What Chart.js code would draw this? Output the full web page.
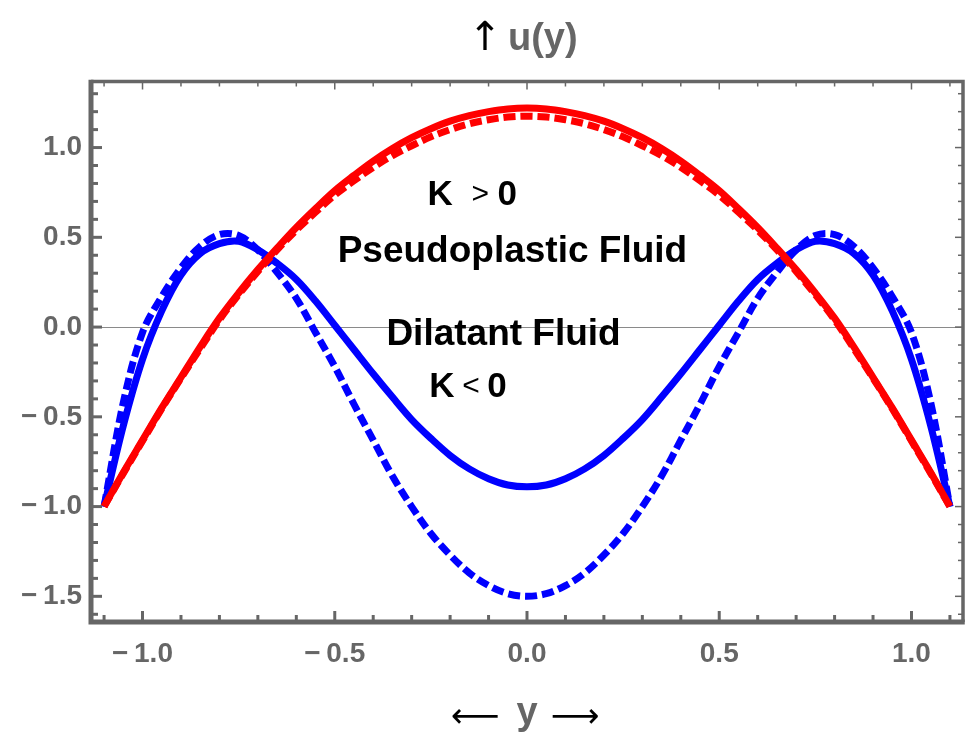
<!DOCTYPE html>
<html>
<head>
<meta charset="utf-8">
<script src="https://cdn.jsdelivr.net/npm/chart.js@4.4.1/dist/chart.umd.min.js"></script>
<style>
  html, body { margin: 0; background: #fff; }
</style>
</head>
<body>
<canvas id="chart" width="965" height="733"></canvas>
<script>
// channel coordinate y
const yPos = [
  -1.10, -1.05, -1.00, -0.95, -0.90, -0.85, -0.80, -0.75, -0.70, -0.65, -0.60,
  -0.55, -0.50, -0.45, -0.40, -0.35, -0.30, -0.25, -0.20, -0.15, -0.10, -0.05,
  0.00,
  0.05, 0.10, 0.15, 0.20, 0.25, 0.30, 0.35, 0.40, 0.45, 0.50, 0.55,
  0.60, 0.65, 0.70, 0.75, 0.80, 0.85, 0.90, 0.95, 1.00, 1.05, 1.10
];

// K > 0, pseudoplastic (solid / dashed)
const pseudoSolid = [
  -1.00, -0.81, -0.63, -0.45, -0.28, -0.11, 0.05, 0.19, 0.32, 0.44, 0.555,
  0.66, 0.76, 0.845, 0.925, 0.995, 1.055, 1.105, 1.147, 1.178, 1.20, 1.215,
  1.22,
  1.215, 1.20, 1.178, 1.147, 1.105, 1.055, 0.995, 0.925, 0.845, 0.76, 0.66,
  0.555, 0.44, 0.32, 0.19, 0.05, -0.11, -0.28, -0.45, -0.63, -0.81, -1.00
];
const pseudoDashed = [
  -1.00, -0.815, -0.635, -0.455, -0.285, -0.12, 0.04, 0.18, 0.31, 0.43, 0.54,
  0.64, 0.735, 0.815, 0.89, 0.955, 1.01, 1.06, 1.10, 1.133, 1.155, 1.17,
  1.175,
  1.17, 1.155, 1.133, 1.10, 1.06, 1.01, 0.955, 0.89, 0.815, 0.735, 0.64,
  0.54, 0.43, 0.31, 0.18, 0.04, -0.12, -0.285, -0.455, -0.635, -0.815, -1.00
];

// K < 0, dilatant (solid / dashed)
const dilatSolid = [
  -1.00, -0.55, -0.18, 0.09, 0.29, 0.41, 0.465, 0.478, 0.43, 0.355, 0.265,
  0.145, 0.01, -0.125, -0.26, -0.39, -0.515, -0.62, -0.715, -0.79, -0.845, -0.88,
  -0.89,
  -0.88, -0.845, -0.79, -0.715, -0.62, -0.515, -0.39, -0.26, -0.125, 0.01, 0.145,
  0.265, 0.355, 0.43, 0.478, 0.465, 0.41, 0.29, 0.09, -0.18, -0.55, -1.00
];
const dilatDashed = [
  -1.00, -0.42, -0.03, 0.17, 0.33, 0.45, 0.515, 0.51, 0.43, 0.305, 0.16,
  -0.03, -0.22, -0.43, -0.63, -0.83, -1.00, -1.15, -1.27, -1.37, -1.44, -1.485,
  -1.50,
  -1.485, -1.44, -1.37, -1.27, -1.15, -1.00, -0.83, -0.63, -0.43, -0.22, -0.03,
  0.16, 0.305, 0.43, 0.51, 0.515, 0.45, 0.33, 0.17, -0.03, -0.42, -1.00
];

const xTicks = [-1.0, -0.5, 0.0, 0.5, 1.0];
const yTicks = [-1.5, -1.0, -0.5, 0.0, 0.5, 1.0];

const pts = vals => yPos.map((p, i) => ({ x: p, y: vals[i] }));
const fmt = v => {
  const s = Math.abs(v).toFixed(1);
  return v < 0 ? '\u2212\u2009' + s : s;
};
const FONT = '"Liberation Sans", Arial, sans-serif';

function line(vals, color, dash) {
  return {
    data: pts(vals),
    showLine: true,
    borderColor: color,
    borderWidth: 7,
    borderDash: dash,
    pointRadius: 0,
    tension: 0.35,
    fill: false,
  };
}

// inward frame ticks like the original
const framePlugin = {
  id: 'frame',
  afterDatasetsDraw(chart) {
    const { ctx, chartArea: a, scales: { x, y } } = chart;
    ctx.save();
    ctx.strokeStyle = '#666';
    ctx.lineCap = 'butt';
    for (let i = -11; i <= 11; i++) {
      const px = x.getPixelForValue(i / 10);
      const major = i % 5 === 0;
      ctx.lineWidth = 3;
      ctx.beginPath();
      ctx.moveTo(px, a.bottom);
      ctx.lineTo(px, a.bottom - (major ? 11 : 7));
      ctx.stroke();
      ctx.lineWidth = 1.5;
      ctx.beginPath();
      ctx.moveTo(px, a.top);
      ctx.lineTo(px, a.top + (major ? 8 : 5));
      ctx.stroke();
    }
    for (let i = -16; i <= 13; i++) {
      const py = y.getPixelForValue(i / 10);
      const major = i % 5 === 0;
      ctx.lineWidth = 3;
      ctx.beginPath();
      ctx.moveTo(a.left, py);
      ctx.lineTo(a.left + (major ? 11 : 7), py);
      ctx.stroke();
      ctx.lineWidth = 1.5;
      ctx.beginPath();
      ctx.moveTo(a.right, py);
      ctx.lineTo(a.right - (major ? 8 : 5), py);
      ctx.stroke();
    }
    ctx.lineWidth = 3.5;
    ctx.beginPath();
    ctx.moveTo(a.left, a.top);
    ctx.lineTo(a.right, a.top);
    ctx.lineTo(a.right, a.bottom);
    ctx.stroke();
    ctx.lineWidth = 5;
    ctx.beginPath();
    ctx.moveTo(a.left, a.top - 1.75);
    ctx.lineTo(a.left, a.bottom);
    ctx.lineTo(a.right + 1.75, a.bottom);
    ctx.stroke();
    ctx.restore();
  }
};

const notes = [
  { text: 'Pseudoplastic Fluid', x: -0.038, y: 0.362 },
  { text: 'Dilatant Fluid', x: -0.061, y: -0.10 },
];

const textPlugin = {
  id: 'texts',
  afterDraw(chart) {
    const { ctx, scales: { x, y } } = chart;
    ctx.save();
    ctx.textBaseline = 'alphabetic';
    ctx.fillStyle = '#000';
    ctx.textAlign = 'center';
    ctx.font = 'bold 37px ' + FONT;
    notes.forEach(n => ctx.fillText(n.text, x.getPixelForValue(n.x), y.getPixelForValue(n.y)));

    const kLabel = (vx, vy, sym, d1, d2) => {
      const px = x.getPixelForValue(vx), py = y.getPixelForValue(vy);
      ctx.textAlign = 'left';
      ctx.font = 'bold 35px ' + FONT;
      ctx.fillText('K', px, py);
      ctx.font = '30px ' + FONT;
      ctx.fillText(sym, px + d1, py - 2);
      ctx.font = 'bold 35px ' + FONT;
      ctx.fillText('0', px + d2, py);
    };
    kLabel(-0.259, 0.68, '>', 44, 70);
    kLabel(-0.254, -0.39, '<', 33, 58);

    // axis titles
    ctx.textAlign = 'center';
    ctx.fillStyle = '#000';
    ctx.font = '40px "DejaVu Sans", sans-serif';
    ctx.fillText('\u2191', 485, 50);
    ctx.textAlign = 'left';
    ctx.fillStyle = '#666';
    ctx.font = 'bold 38px ' + FONT;
    ctx.fillText('u(y)', 508, 50);

    ctx.textAlign = 'center';
    ctx.fillStyle = '#000';
    ctx.font = '34px "DejaVu Sans", sans-serif';
    ctx.fillText('\u27F5', 475, 727);
    ctx.fillText('\u27F6', 575, 727);
    ctx.fillStyle = '#666';
    ctx.font = 'bold 38px ' + FONT;
    ctx.fillText('y', 527, 724);
    ctx.restore();
  }
};

new Chart(document.getElementById('chart'), {
  type: 'scatter',
  data: {
    datasets: [
      line(pseudoSolid, '#ff0000', []),
      line(pseudoDashed, '#ff0000', [12, 5]),
      line(dilatSolid, '#0000ff', []),
      line(dilatDashed, '#0000ff', [12, 5]),
    ],
  },
  options: {
    responsive: false,
    animation: false,
    devicePixelRatio: 1,
    layout: { padding: { top: 81.5, right: 2, left: 0, bottom: 0 } },
    plugins: {
      legend: { display: false },
      tooltip: { enabled: false },
    },
    scales: {
      x: {
        type: 'linear',
        min: -1.134,
        max: 1.134,
        afterBuildTicks: s => { s.ticks = xTicks.map(v => ({ value: v })); },
        afterFit: s => { s.height = 111; },
        grid: { display: false },
        border: { display: false },
        ticks: {
          color: '#666',
          font: { family: FONT, size: 28, weight: 'bold' },
          padding: 7,
          maxRotation: 0,
          autoSkip: false,
          callback: fmt,
        },
      },
      y: {
        type: 'linear',
        min: -1.643,
        max: 1.368,
        afterBuildTicks: s => { s.ticks = yTicks.map(v => ({ value: v })); },
        afterFit: s => { s.width = 91; },
        grid: {
          drawTicks: false,
          lineWidth: 1,
          color: c => (c.tick && c.tick.value === 0 ? '#8a8a8a' : 'rgba(0,0,0,0)'),
        },
        border: { display: false },
        ticks: {
          color: '#666',
          font: { family: FONT, size: 28, weight: 'bold' },
          padding: 9,
          autoSkip: false,
          callback: fmt,
        },
      },
    },
  },
  plugins: [framePlugin, textPlugin],
});
</script>
</body>
</html>
